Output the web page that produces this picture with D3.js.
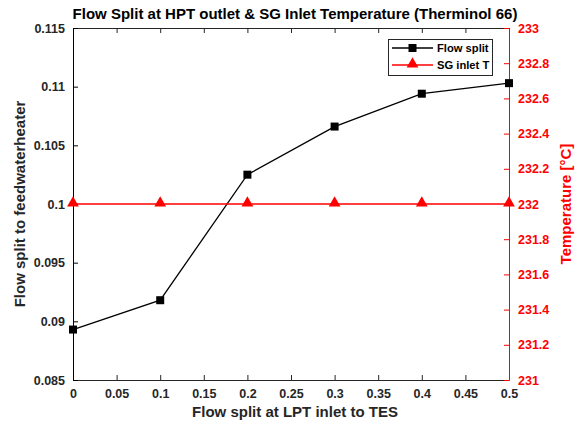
<!DOCTYPE html>
<html><head><meta charset="utf-8">
<script src="https://cdn.jsdelivr.net/npm/d3@7"></script>
<style>body{margin:0;background:#fff;} text{font-family:"Liberation Sans",Arial,sans-serif;font-weight:bold;}</style>
</head><body><svg id="c" width="580" height="425"></svg>
<script>
const xVals = [0, 0.1, 0.2, 0.3, 0.4, 0.5];
const flowSplit = [0.0893, 0.0918, 0.1025, 0.1066, 0.1094, 0.1103];
const sgInletT = [232, 232, 232, 232, 232, 232];
const xTicks = [0,0.05,0.1,0.15,0.2,0.25,0.3,0.35,0.4,0.45,0.5];
const yLeftTicks = [0.085,0.09,0.095,0.1,0.105,0.11,0.115];
const yRightTicks = [231,231.2,231.4,231.6,231.8,232,232.2,232.4,232.6,232.8,233];
const seriesNames = ["Flow split","SG inlet T"];

const svg = d3.select("#c");
const L=73, R=509, T=28, B=380;
const x = d3.scaleLinear().domain([0,0.5]).range([L,R]);
const yL = d3.scaleLinear().domain([0.085,0.115]).range([B,T]);
const yR = d3.scaleLinear().domain([231,233]).range([B,T]);
const red = "#ff0000";
const fs = 12.5;

// bottom axis
const xa = svg.append("g").attr("transform",`translate(0,${B})`)
  .call(d3.axisBottom(x).tickValues(xTicks).tickFormat(d=>d3.format("")(d)).tickSizeInner(-5).tickSizeOuter(0).tickPadding(9));
xa.select(".domain").attr("stroke","#262626");
xa.selectAll("line").attr("stroke","#262626");
xa.selectAll("text").attr("font-size",fs).attr("fill","#262626");
// top axis
const xt = svg.append("g").attr("transform",`translate(0,${T})`)
  .call(d3.axisTop(x).tickValues(xTicks).tickFormat("").tickSizeInner(-5).tickSizeOuter(0));
xt.select(".domain").attr("stroke","#262626");
xt.selectAll("line").attr("stroke","#262626");
// left axis
const ya = svg.append("g").attr("transform",`translate(${L},0)`)
  .call(d3.axisLeft(yL).tickValues(yLeftTicks).tickFormat(d=>d3.format("")(+d.toFixed(3))).tickSizeInner(-5).tickSizeOuter(0).tickPadding(8));
ya.select(".domain").attr("stroke","#000");
ya.selectAll("line").attr("stroke","#000");
ya.selectAll("text").attr("font-size",fs).attr("fill","#262626");
// right axis
const yra = svg.append("g").attr("transform",`translate(${R},0)`)
  .call(d3.axisRight(yR).tickValues(yRightTicks).tickFormat(d=>d3.format("")(+d.toFixed(1))).tickSizeInner(-5).tickSizeOuter(0).tickPadding(9));
yra.select(".domain").attr("stroke",red);
yra.selectAll("line").attr("stroke",red);
yra.selectAll("text").attr("font-size",fs).attr("fill",red);

// lines
const lineL = d3.line().x((d,i)=>x(xVals[i])).y(d=>yL(d));
svg.append("path").datum(flowSplit).attr("d",lineL).attr("fill","none").attr("stroke","#000").attr("stroke-width",1.3);
svg.selectAll(".sq").data(flowSplit).enter().append("rect")
  .attr("x",(d,i)=>x(xVals[i])-4).attr("y",d=>yL(d)-4).attr("width",8).attr("height",8).attr("fill","#000");
const lineR = d3.line().x((d,i)=>x(xVals[i])).y(d=>yR(d));
svg.append("path").datum(sgInletT).attr("d",lineR).attr("fill","none").attr("stroke",red).attr("stroke-width",1.3);
const tri = d3.symbol().type(d3.symbolTriangle).size(60);
svg.selectAll(".tr").data(sgInletT).enter().append("path")
  .attr("d",tri).attr("transform",(d,i)=>`translate(${x(xVals[i])},${yR(d)-1})`).attr("fill",red);

// legend
const lg = svg.append("g");
lg.append("rect").attr("x",388.5).attr("y",39.5).attr("width",104).attr("height",36).attr("fill","#fff").attr("stroke","#262626").attr("stroke-width",1);
const rows=[{y:48,c:"#000",m:"sq"},{y:65,c:red,m:"tri"}];
rows.forEach((r,i)=>{
  lg.append("line").attr("x1",392).attr("x2",433).attr("y1",r.y).attr("y2",r.y).attr("stroke",r.c).attr("stroke-width",1.3);
  if(r.m==="sq") lg.append("rect").attr("x",408.5).attr("y",r.y-4).attr("width",8).attr("height",8).attr("fill",r.c);
  else lg.append("path").attr("d",tri).attr("transform",`translate(412.5,${r.y-1})`).attr("fill",r.c);
  lg.append("text").attr("x",437).attr("y",r.y+4).attr("font-size",11.2).attr("fill","#000").text(seriesNames[i]);
});

// titles
svg.append("text").attr("x",(L+R)/2+4).attr("y",19).attr("text-anchor","middle").attr("font-size",15).attr("fill","#000")
  .text("Flow Split at HPT outlet & SG Inlet Temperature (Therminol 66)");
svg.append("text").attr("x",(L+R)/2+4).attr("y",417).attr("text-anchor","middle").attr("font-size",15).attr("fill","#262626")
  .text("Flow split at LPT inlet to TES");
svg.append("text").attr("transform",`translate(25,${(T+B)/2}) rotate(-90)`).attr("text-anchor","middle").attr("font-size",15).attr("fill","#262626")
  .text("Flow split to feedwaterheater");
svg.append("text").attr("transform",`translate(571,${(T+B)/2}) rotate(-90)`).attr("text-anchor","middle").attr("font-size",15).attr("fill",red)
  .text("Temperature [°C]");
</script></body></html>
